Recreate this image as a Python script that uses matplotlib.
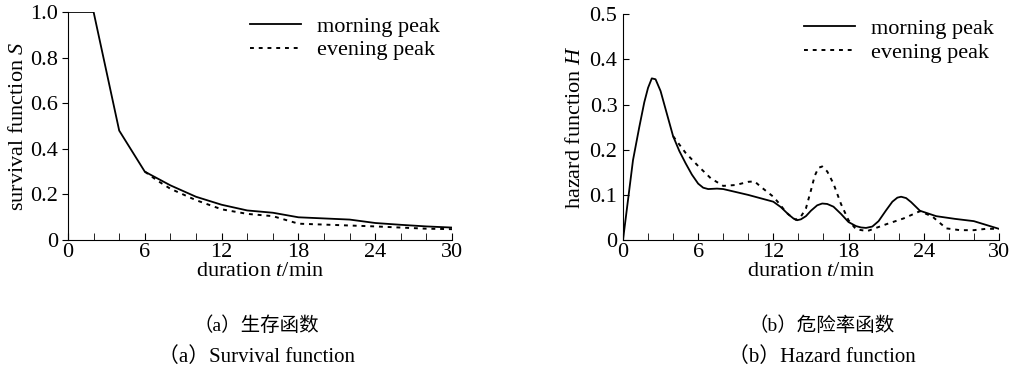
import matplotlib.pyplot as plt
import numpy as np

plt.rcParams['font.family'] = ['Liberation Serif', 'Noto Sans CJK SC']
plt.rcParams['mathtext.fontset'] = 'custom'
plt.rcParams['mathtext.rm'] = 'Liberation Serif'
plt.rcParams['mathtext.it'] = 'Liberation Serif:italic'
plt.rcParams['font.size'] = 16

# survival function
t_surv = [0, 2, 4, 6, 8, 10, 12, 14, 16, 18, 20, 22, 24, 26, 28, 30]
s_morning = [1.0, 1.0, 0.48, 0.30, 0.24, 0.19, 0.155, 0.13, 0.12, 0.10, 0.095, 0.09, 0.075, 0.067, 0.06, 0.055]
t_surv_eve = [6, 7, 8, 10, 12, 14, 16, 18, 20, 22, 24, 26, 28, 30]
s_evening = [0.30, 0.26, 0.225, 0.175, 0.135, 0.115, 0.105, 0.072, 0.068, 0.064, 0.06, 0.055, 0.05, 0.048]

# hazard function
t_haz_m = [0, 0.8, 1.3, 1.7, 2.0, 2.3, 2.6, 3.0, 3.5, 4, 4.5, 5, 5.5, 6, 6.4, 6.8, 7.5, 8, 10, 12,
           12.6, 13.2, 13.6, 13.9, 14.2, 14.6, 15.0, 15.5, 15.9, 16.3, 16.8, 17.4, 18, 18.6, 19.0,
           19.4, 19.9, 20.4, 21, 21.5, 21.9, 22.2, 22.6, 23.0, 23.7, 25, 26.5, 28, 30]
h_morning = [0, 0.177, 0.25, 0.305, 0.337, 0.358, 0.356, 0.33, 0.28, 0.23, 0.197, 0.17, 0.145, 0.125,
             0.116, 0.113, 0.114, 0.113, 0.10, 0.085, 0.073, 0.057, 0.048, 0.044, 0.046, 0.053, 0.065,
             0.077, 0.081, 0.08, 0.074, 0.058, 0.04, 0.031, 0.028, 0.027, 0.03, 0.042, 0.066, 0.085,
             0.094, 0.096, 0.093, 0.084, 0.065, 0.053, 0.047, 0.042, 0.025]
t_haz_e = [4, 5, 6, 7, 8, 9, 10, 10.5, 11, 12, 12.5, 13, 13.5, 13.8, 14.2, 14.6, 15, 15.3, 15.6,
           15.9, 16.3, 16.8, 17.4, 18, 18.6, 19.5, 21, 22.4, 23.7, 24.7, 25.8, 26.9, 28, 29, 30]
h_evening = [0.23, 0.193, 0.164, 0.137, 0.12, 0.122, 0.129, 0.13, 0.118, 0.096, 0.08, 0.062, 0.05, 0.045,
             0.052, 0.07, 0.11, 0.142, 0.16, 0.163, 0.152, 0.125, 0.08, 0.044, 0.024, 0.02, 0.035, 0.048,
             0.064, 0.052, 0.026, 0.022, 0.022, 0.025, 0.025]

dots = (0, (2, 2.5))

fig = plt.figure(figsize=(10.27, 3.74), dpi=100)
ax1 = fig.add_axes([0.0662, 0.358, 0.374, 0.610])
ax2 = fig.add_axes([0.6066, 0.358, 0.366, 0.604])

ax1.plot(t_surv, s_morning, 'k-', lw=1.3, label='morning peak')
ax1.plot(t_surv_eve, s_evening, color='k', ls=dots, lw=1.4, label='evening peak')
ax1.set_ylim(0, 1.0)
ax1.set_yticks([0, 0.2, 0.4, 0.6, 0.8, 1.0])
ax1.set_yticklabels(['0', '0.2', '0.4', '0.6', '0.8', '1.0'])
ax1.set_ylabel('survival function $S$', labelpad=2)
ax1.tick_params(axis='y', direction='out', length=4, pad=3)

ax2.plot(t_haz_m, h_morning, 'k-', lw=1.3, label='morning peak')
ax2.plot(t_haz_e, h_evening, color='k', ls=dots, lw=1.4, label='evening peak')
ax2.set_ylim(0, 0.5)
ax2.set_yticks([0, 0.1, 0.2, 0.3, 0.4, 0.5])
ax2.set_yticklabels(['0', '0.1', '0.2', '0.3', '0.4', '0.5'])
ax2.set_ylabel('hazard function $H$', labelpad=3)
ax2.tick_params(axis='y', direction='in', length=4, pad=4)

for ax in (ax1, ax2):
    ax.set_xlim(0, 30)
    ax.set_xticks(np.arange(0, 31, 6))
    ax.set_xticks(np.arange(0, 31, 2), minor=True)
    ax.tick_params(axis='x', which='both', direction='in', length=5, pad=2)
    ax.spines['top'].set_visible(False)
    ax.spines['right'].set_visible(False)
    ax.set_xlabel('duration $t$/min', labelpad=0)

ax1.legend(loc='upper right', bbox_to_anchor=(1.02, 1.07), frameon=False,
           handlelength=2.3, labelspacing=0.15, handletextpad=0.7)
ax2.legend(loc='upper right', bbox_to_anchor=(1.04, 1.07), frameon=False,
           handlelength=2.3, labelspacing=0.15, handletextpad=0.7)

fig.text(0.250, 0.128, '（a）生存函数', ha='center', va='center', fontsize=14)
fig.text(0.250, 0.045, '（a）Survival function', ha='center', va='center', fontsize=15)
fig.text(0.800, 0.128, '（b）危险率函数', ha='center', va='center', fontsize=14)
fig.text(0.800, 0.045, '（b）Hazard function', ha='center', va='center', fontsize=15)

plt.savefig('out.png')
